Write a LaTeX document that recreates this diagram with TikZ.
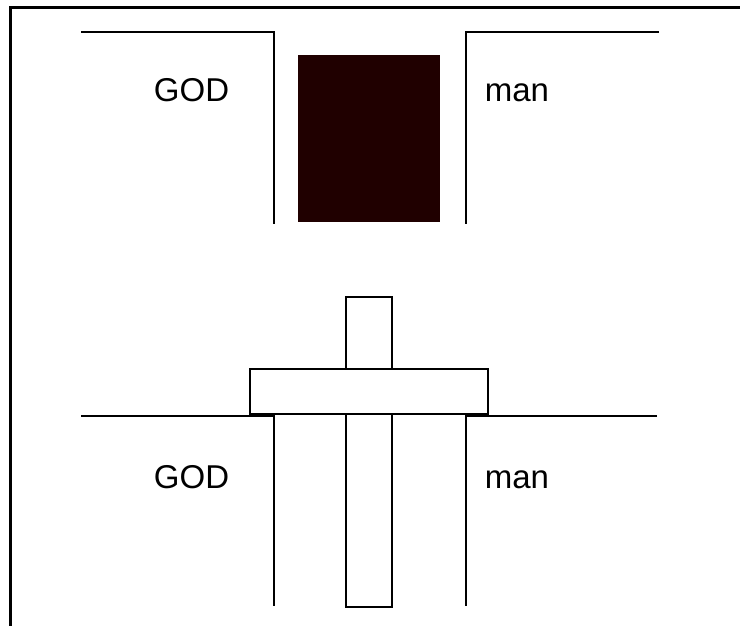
\documentclass[tikz,border=0pt]{standalone}
\usepackage{fontspec}
\setmainfont{Liberation Sans}
\definecolor{darkbox}{HTML}{200000}
\tikzset{
  ln/.style={line width=2pt, black},
  lbl/.style={inner sep=0pt, anchor=base, font=\fontsize{33}{40}\selectfont},
  whitebox/.style={ln, fill=white}
}
\begin{document}
\begin{tikzpicture}[x=1pt,y=-1pt]
\useasboundingbox (0,0) rectangle (740,626);
% partial frame
\draw[line width=3pt] (10,626) -- (10,8) -- (740,8);
% top
\draw[ln] (81,32) -- (274,32) -- (274,224);
\draw[ln] (659,32) -- (466,32) -- (466,224);
\fill[darkbox] (298,55) rectangle (440,222);
\node[lbl] (god1) at (191.5,102) {GOD};
\node[lbl] (man1) at (517,102) {man};
% bottom
\draw[ln] (81,416) -- (274,416) -- (274,606);
\draw[ln] (657,416) -- (466,416) -- (466,606);
\draw[whitebox] (346,297) rectangle (392,607);
\draw[whitebox] (250,369) rectangle (488,414);
\node[lbl] (god2) at (191.5,488) {GOD};
\node[lbl] (man2) at (517,488) {man};
\end{tikzpicture}
\end{document}
